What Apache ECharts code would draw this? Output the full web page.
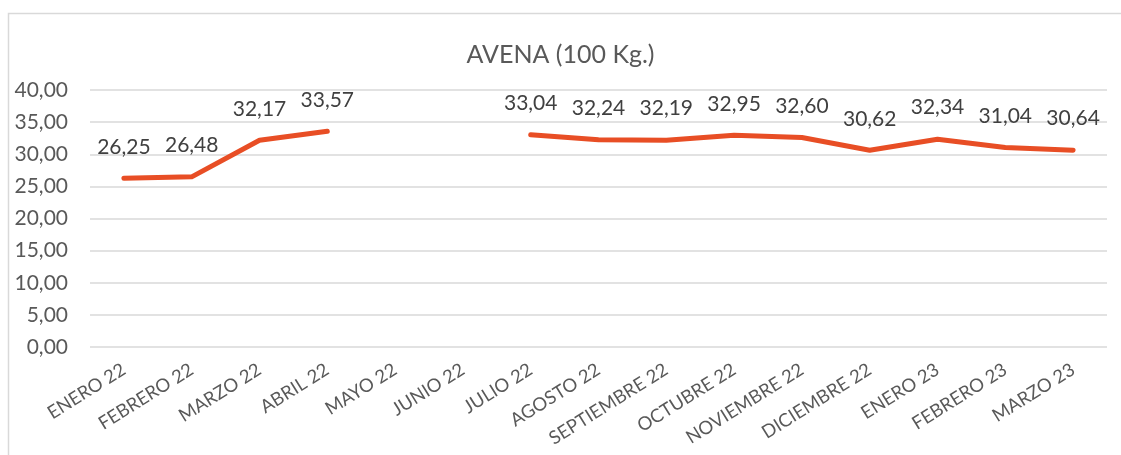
<!DOCTYPE html>
<html>
<head>
<meta charset="utf-8">
<script src="https://cdn.jsdelivr.net/npm/echarts@6/dist/echarts.min.js"></script>
<style>
  html, body { margin: 0; padding: 0; background: #fff; }
  #chart { width: 1121px; height: 455px; }
</style>
</head>
<body>
<div id="chart"></div>
<script>
var meses = ["ENERO 22", "FEBRERO 22", "MARZO 22", "ABRIL 22", "MAYO 22", "JUNIO 22",
  "JULIO 22", "AGOSTO 22", "SEPTIEMBRE 22", "OCTUBRE 22", "NOVIEMBRE 22", "DICIEMBRE 22",
  "ENERO 23", "FEBRERO 23", "MARZO 23"];
var precios = [26.25, 26.48, 32.17, 33.57, null, null, 33.04, 32.24, 32.19, 32.95, 32.60,
  30.62, 32.34, 31.04, 30.64];

function coma(v) {
  return Number(v).toFixed(2).replace(".", ",");
}

var chartDom = document.getElementById("chart");
var myChart = echarts.init(chartDom);

var option = {
  animation: false,
  textStyle: { fontFamily: "Lato" },
  graphic: [{
    type: "rect",
    shape: { x: 8.5, y: 13.5, width: 1200, height: 500 },
    style: { fill: null, stroke: "#d9d9d9", lineWidth: 1.5 }
  }],
  title: {
    text: "AVENA (100 Kg.)",
    left: "center",
    top: 37,
    textStyle: { fontSize: 25, fontWeight: "normal", color: "#595959", fontFamily: "Lato" }
  },
  grid: { left: 90, right: 14, top: 90, bottom: 108 },
  xAxis: {
    type: "category",
    data: meses,
    boundaryGap: true,
    axisLine: { show: false },
    axisTick: { show: false },
    axisLabel: {
      rotate: 32,
      interval: 0,
      margin: 21,
      fontSize: 18.5,
      color: "#595959"
    }
  },
  yAxis: {
    type: "value",
    min: 0,
    max: 40,
    interval: 5,
    axisLine: { show: false },
    axisTick: { show: false },
    axisLabel: {
      fontSize: 21,
      color: "#595959",
      margin: 22,
      formatter: coma
    },
    splitLine: { lineStyle: { color: "#d9d9d9", width: 1.5 } }
  },
  series: [{
    name: "AVENA",
    type: "line",
    data: precios,
    connectNulls: false,
    symbol: "circle",
    symbolSize: 2,
    showSymbol: true,
    showAllSymbol: true,
    itemStyle: { color: "#e84e25", borderWidth: 0 },
    lineStyle: { color: "#e84e25", width: 5, cap: "round", join: "round" },
    label: {
      show: true,
      position: "top",
      distance: 20,
      fontSize: 21,
      color: "#404040",
      formatter: function (p) { return coma(p.value); }
    },
    labelLayout: { hideOverlap: false }
  }]
};

myChart.setOption(option);
</script>
</body>
</html>
